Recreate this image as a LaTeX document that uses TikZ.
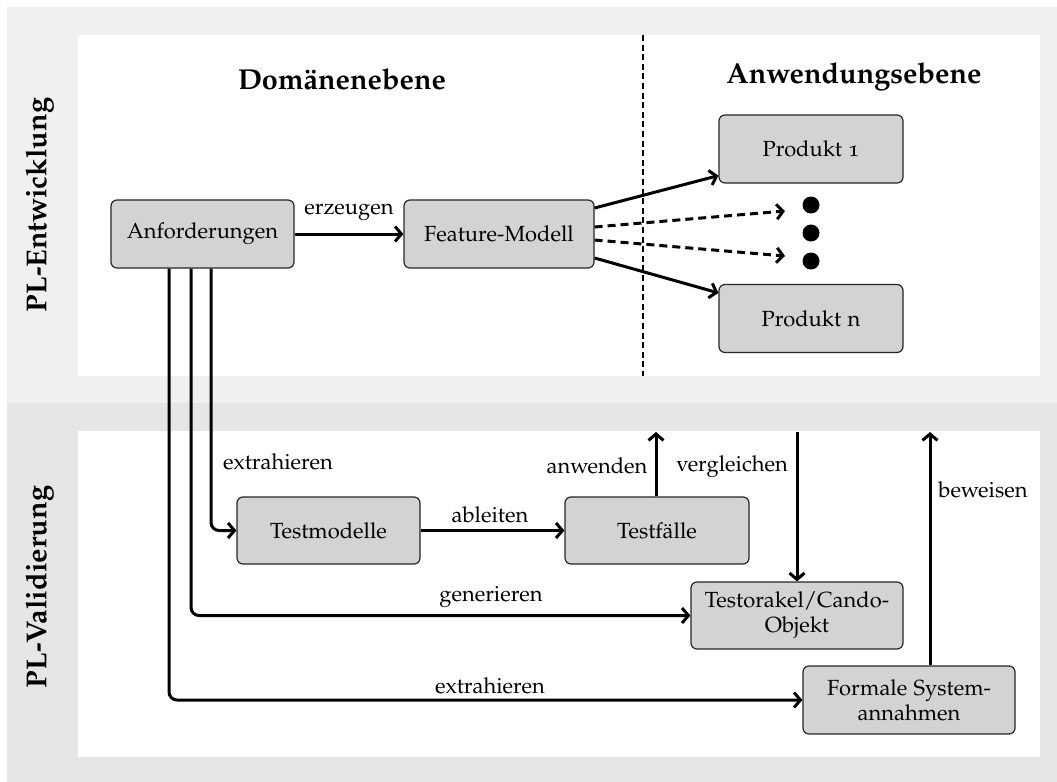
\documentclass[tikz,border=0pt]{standalone}
\usepackage[T1]{fontenc}
\usepackage[osf]{mathpazo}
\usetikzlibrary{arrows.meta,calc}

\definecolor{bandtop}{RGB}{240,240,240}
\definecolor{bandbot}{RGB}{230,230,230}
\definecolor{boxfill}{RGB}{211,211,211}

\tikzset{
  box/.style={draw=black!85, line width=0.6pt, fill=boxfill, rounded corners=3pt,
    align=center, inner sep=2pt, font=\fontsize{10.95}{12.5}\selectfont},
  conn/.style={line width=1.5pt, -{Straight Barb[length=3.2pt,width=7.5pt]}, rounded corners=4pt},
  dconn/.style={conn, dash pattern=on 4pt off 2.5pt},
  lbl/.style={font=\fontsize{10.95}{13}\selectfont, inner sep=0pt},
  head/.style={font=\fontsize{14.4}{17}\selectfont\bfseries, inner sep=0pt},
  side/.style={font=\fontsize{14.4}{17}\selectfont\bfseries, inner sep=0pt, rotate=90},
  dot/.style={circle, fill=black, inner sep=0pt, minimum size=8.5pt},
}

\begin{document}
\begin{tikzpicture}[x=0.5pt, y=-0.5pt]
  \useasboundingbox (0,0) rectangle (1057,782);

  % bands and panels
  \fill[bandtop] (7,7) rectangle (1057,403);
  \fill[bandbot] (7,403) rectangle (1057,782);
  \fill[white] (78,35) rectangle (1040,376);
  \fill[white] (78,431) rectangle (1040,757);

  % level separator
  \draw[line width=1.4pt, dash pattern=on 3pt off 1.8pt] (643,35) -- (643,376);

  % headings
  \node[head] (hdom) at (342,80) {Dom\"anenebene};
  \node[head] (happ) at (854,77) {Anwendungsebene};
  \node[side] (sdev) at (40,205) {PL-Entwicklung};
  \node[side] (sval) at (40,587) {PL-Validierung};

  % boxes
  \node[box, minimum width=91.5pt, minimum height=34pt] (anf) at (202.5,234) {Anforderungen};
  \node[box, minimum width=95pt, minimum height=34pt] (fm) at (499,234) {Feature-Modell};
  \node[box, minimum width=92pt, minimum height=34pt] (p1) at (811,149) {Produkt 1};
  \node[box, minimum width=92pt, minimum height=34pt] (pn) at (811,318.5) {Produkt n};
  \node[box, minimum width=91.5pt, minimum height=33.5pt] (tm) at (328.5,530.5) {Testmodelle};
  \node[box, minimum width=92pt, minimum height=33.5pt] (tf) at (657,530.5) {Testf\"alle};
  \node[box, minimum width=106pt, minimum height=33.5pt] (to) at (797,615.5) {Testorakel/Cando-\\Objekt};
  \node[box, minimum width=106pt, minimum height=34pt] (fs) at (909,700) {Formale System-\\annahmen};

  % product ellipsis
  \node[dot] (d1) at (811,205) {};
  \node[dot] (d2) at (811,233) {};
  \node[dot] (d3) at (811,261) {};

  % free ends at the top of the validation panel
  \coordinate (upA) at (656,432);
  \coordinate (upV) at (797,432);
  \coordinate (upB) at (930,432);

  % development level
  \draw[conn] (anf.east) -- (fm.west);
  \node[lbl] (lerz) at (349,212) {erzeugen};
  \draw[conn] ([yshift=13pt]fm.east) -- ([yshift=4pt]p1.south west);
  \draw[conn] ([yshift=-12pt]fm.east) -- ([yshift=-4.5pt]pn.north west);
  \draw[dconn] ([yshift=3.5pt]fm.east) -- ([xshift=-13pt,yshift=-3pt]d1.center);
  \draw[dconn] ([yshift=-3pt]fm.east) -- ([xshift=-13pt,yshift=2.5pt]d3.center);

  % validation level
  \draw[conn] ([xshift=4.25pt]anf.south) |- (tm.west);
  \node[lbl] (lext1) at (278,462) {extrahieren};
  \draw[conn] ([xshift=-5.75pt]anf.south) |- (to.west);
  \node[lbl] (lgen) at (491,597) {generieren};
  \draw[conn] ([xshift=-16.75pt]anf.south) |- (fs.west);
  \node[lbl] (lext2) at (490,686) {extrahieren};
  \draw[conn] (tm.east) -- (tf.west);
  \node[lbl] (labl) at (490,515) {ableiten};
  \draw[conn] ([xshift=-0.5pt]tf.north) -- (upA);
  \node[lbl] (lanw) at (597,466) {anwenden};
  \draw[conn] (upV) -- (to.north);
  \node[lbl] (lver) at (732,467) {vergleichen};
  \draw[conn] ([xshift=10.5pt]fs.north) -- (upB);
  \node[lbl] (lbew) at (983,490) {beweisen};
\end{tikzpicture}
\end{document}
